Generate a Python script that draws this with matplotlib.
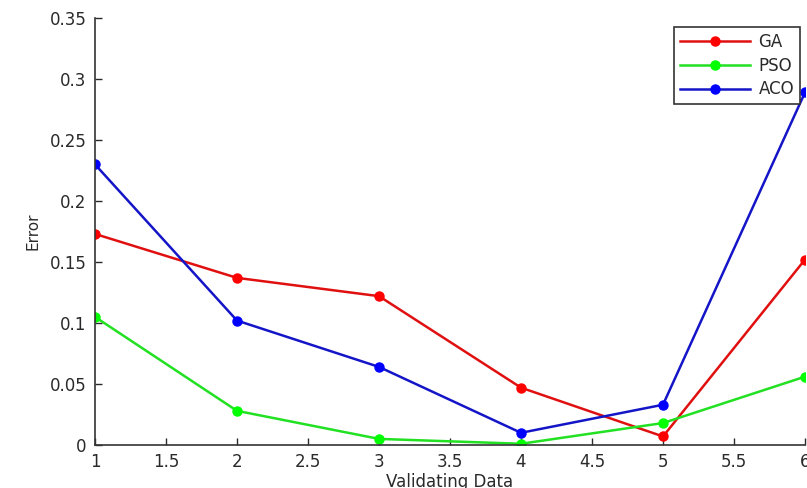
import matplotlib
matplotlib.use("Agg")
import matplotlib.pyplot as plt

x = [1, 2, 3, 4, 5, 6]
ga = [0.173, 0.137, 0.122, 0.047, 0.007, 0.152]
pso = [0.105, 0.028, 0.005, 0.001, 0.018, 0.056]
aco = [0.230, 0.102, 0.064, 0.010, 0.033, 0.289]
series_names = ["GA", "PSO", "ACO"]
xticks = [1, 1.5, 2, 2.5, 3, 3.5, 4, 4.5, 5, 5.5, 6]
xticklabels = ["1", "1.5", "2", "2.5", "3", "3.5", "4", "4.5", "5", "5.5", "6"]
yticks = [0, 0.05, 0.1, 0.15, 0.2, 0.25, 0.3, 0.35]
yticklabels = ["0", "0.05", "0.1", "0.15", "0.2", "0.25", "0.3", "0.35"]

plt.rcParams['font.family'] = ['DejaVu Sans']

fig = plt.figure(figsize=(8.07, 4.88), dpi=100)
W, H = 807, 488
left, right, bottom, top = 95, 805, 445, 18
ax = fig.add_axes([left / W, 1 - bottom / H, (right - left) / W, (bottom - top) / H])

ax.plot(x, ga, color='#e01010', lw=1.8, marker='o', ms=6.5, mfc='#ff0000', mec='#ff0000', label=series_names[0])
ax.plot(x, pso, color='#22e022', lw=1.8, marker='o', ms=6.5, mfc='#00ff00', mec='#00ff00', label=series_names[1])
ax.plot(x, aco, color='#1515c8', lw=1.8, marker='o', ms=6.5, mfc='#0000ff', mec='#0000ff', label=series_names[2])

ax.set_xlim(1, 6)
ax.set_ylim(0, 0.35)
ax.set_xticks(xticks)
ax.set_xticklabels(xticklabels)
ax.set_yticks(yticks)
ax.set_yticklabels(yticklabels)
ax.tick_params(direction='in', length=5, width=1, labelsize=12, colors='#2a2a2a', pad=6)
for s in ['top', 'right']:
    ax.spines[s].set_visible(False)
for s in ['left', 'bottom']:
    ax.spines[s].set_color('#333333')
    ax.spines[s].set_linewidth(1.2)

ax.set_xlabel("Validating Data", fontsize=12, color='#2a2a2a', labelpad=1)
ax.set_ylabel("Error", fontsize=11, color='#2a2a2a', labelpad=7)

leg = ax.legend(loc='upper right', bbox_to_anchor=(800 / W, 1 - 27 / H), bbox_transform=fig.transFigure,
                borderaxespad=0, fancybox=False, edgecolor='#333333', framealpha=1,
                fontsize=12, handlelength=4.2, labelspacing=0.35, borderpad=0.35, handletextpad=0.5)
leg.get_frame().set_linewidth(1.2)
for t in leg.get_texts():
    t.set_color('#2a2a2a')

fig.savefig("out.png", dpi=100)
